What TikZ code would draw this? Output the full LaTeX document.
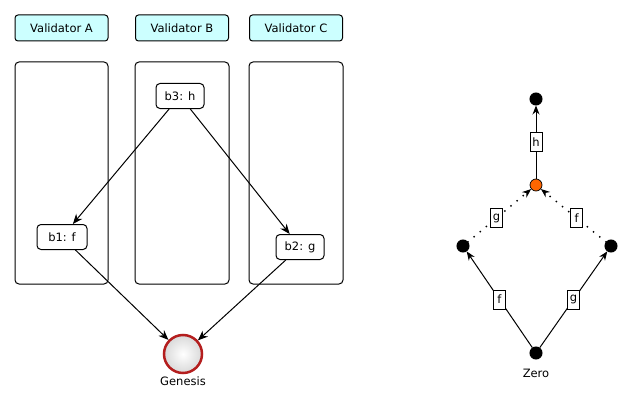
\documentclass[tikz,border=0pt]{standalone}
\usepackage{fontspec}
\setmainfont{DejaVu Sans}
\usetikzlibrary{arrows.meta}
\definecolor{hdrfill}{RGB}{204,255,255}
\definecolor{genred}{RGB}{180,30,30}
\definecolor{midorange}{RGB}{255,102,0}
\begin{document}
\begin{tikzpicture}[x=1pt,y=-1pt, line width=1pt,
  every node/.style={font=\fontsize{11.5}{13}\selectfont},
  hdr/.style={draw, rounded corners=3pt, fill=hdrfill, minimum width=93pt, minimum height=26pt, inner sep=0pt},
  col/.style={draw, rounded corners=4pt, minimum width=93pt, minimum height=222pt, inner sep=0pt},
  blk/.style={draw, rounded corners=4pt, fill=white, minimum width=48pt, minimum height=25pt, inner sep=0pt},
  arr/.style={-{Stealth[length=10pt,width=8pt]}, line width=1pt},
  dot/.style={circle, fill=black, draw=black, minimum size=12pt, inner sep=0pt},
  elab/.style={draw, solid, fill=white, line width=1pt, inner sep=1pt, minimum width=12pt, minimum height=19pt, font=\fontsize{11.5}{12}\selectfont},
  sarr/.style={-{Stealth[length=9pt,width=7pt]}, line width=1pt},
  darr/.style={-{Stealth[length=9pt,width=7pt,line width=1pt]}, line width=2pt, line cap=round, dash pattern=on 0pt off 8pt},
]
\useasboundingbox (0,0) rectangle (632,404);
% headers
\node[hdr] (va) at (61.5,28) {Validator A};
\node[hdr] (vb) at (182,28) {Validator B};
\node[hdr] (vc) at (296,28) {Validator C};
% columns
\node[col] (ca) at (61.5,173) {};
\node[col, minimum width=94pt] (cb) at (182,173) {};
\node[col, minimum width=94pt] (cc) at (296,173) {};
% blocks
\node[blk] (b3) at (180,96) {b3: h};
\node[blk, minimum width=50pt] (b1) at (62,237) {b1: f};
\node[blk] (b2) at (300,247) {b2: g};
% genesis
\node[circle, draw=genred, line width=2.5pt, inner color=white, outer color=gray!30, minimum size=38pt, inner sep=0pt] (gen) at (183,354) {};
\node (genl) at (183,381) {Genesis};
\draw[arr] (b3) -- (b1);
\draw[arr] (b3) -- (b2);
\draw[arr] (b1) -- (gen);
\draw[arr] (b2) -- (gen);
% right diagram
\node[dot] (top) at (536,99) {};
\node[circle, fill=midorange, draw=black, line width=0.7pt, minimum size=12pt, inner sep=0pt] (mid) at (536,185) {};
\node[dot] (L) at (463,246) {};
\node[dot] (R) at (611,246) {};
\node[dot] (zero) at (536,353) {};
\node (zerol) at (536,373) {Zero};
\draw[sarr] (mid) -- node[elab] {h} (top);
\draw[sarr] (zero) -- node[elab] {f} (L);
\draw[sarr] (zero) -- node[elab] {g} (R);
\draw[darr] (L) -- node[elab, pos=0.45] {g} (mid);
\draw[darr] (R) -- node[elab, pos=0.45] {f} (mid);
\end{tikzpicture}
\end{document}
